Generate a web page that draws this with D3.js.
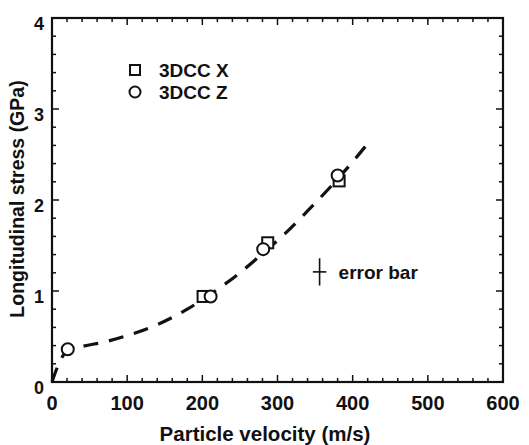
<!DOCTYPE html>
<html><head><meta charset="utf-8">
<script src="https://cdn.jsdelivr.net/npm/d3@7"></script>
<style>body{margin:0;background:#fff}svg text{font-family:"Liberation Sans",Arial,sans-serif;font-weight:bold;fill:#111}</style>
</head><body><svg id="c" width="529" height="445"></svg>
<script>
const xTicks=[0,100,200,300,400,500,600];
const yTicks=[0,1,2,3,4];
const seriesX=[[201,0.94],[287,1.53],[382,2.21]];
const seriesZ=[[21,0.36],[211,0.94],[281,1.46],[380,2.27]];
const curve=[[0,0],[8,0.18],[20,0.34],[40,0.39],[70,0.44],[100,0.51],[140,0.63],[180,0.80],[210,0.96],[250,1.2],[280,1.41],[310,1.63],[340,1.88],[370,2.14],[400,2.42],[422,2.64]];
const errBar={v:356,s:1.21,dv:9,ds:0.15,label:"error bar"};
const legend=[{name:"3DCC X",shape:"square"},{name:"3DCC Z",shape:"circle"}];

const svg=d3.select("#c");
const x=d3.scaleLinear().domain([0,600]).range([52,503]);
const y=d3.scaleLinear().domain([0,4]).range([382,18]);
const g=svg.append("g");
// frame
g.append("rect").attr("x",x(0)).attr("y",y(4)).attr("width",x(600)-x(0)).attr("height",y(0)-y(4)).attr("fill","none").attr("stroke","#111").attr("stroke-width",2.2);
// ticks
const xMinor=d3.range(0,601,20), yMinor=d3.range(0,4.01,0.2);
xMinor.forEach(v=>{const L=(v%100===0)?7:4;
 g.append("line").attr("x1",x(v)).attr("x2",x(v)).attr("y1",y(0)).attr("y2",y(0)-L).attr("stroke","#111").attr("stroke-width",1.5);
 g.append("line").attr("x1",x(v)).attr("x2",x(v)).attr("y1",y(4)).attr("y2",y(4)+L).attr("stroke","#111").attr("stroke-width",1.5);});
yMinor.forEach(v=>{const L=(Math.abs(v-Math.round(v))<1e-6)?7:4;
 g.append("line").attr("x1",x(0)).attr("x2",x(0)+L).attr("y1",y(v)).attr("y2",y(v)).attr("stroke","#111").attr("stroke-width",1.5);
 g.append("line").attr("x1",x(600)).attr("x2",x(600)-L).attr("y1",y(v)).attr("y2",y(v)).attr("stroke","#111").attr("stroke-width",1.5);});
xTicks.forEach(v=>g.append("text").attr("x",x(v)).attr("y",410).attr("text-anchor","middle").attr("font-size",20).text(v));
yTicks.forEach(v=>g.append("text").attr("x",44).attr("y",y(v)+12).attr("text-anchor","end").attr("font-size",18).text(v));
g.append("text").attr("x",265).attr("y",441).attr("text-anchor","middle").attr("font-size",20.5).text("Particle velocity (m/s)");
g.append("text").attr("transform","translate(24,199) rotate(-90)").attr("text-anchor","middle").attr("font-size",19.5).text("Longitudinal stress (GPa)");
// curve
const line=d3.line().x(d=>x(d[0])).y(d=>y(d[1])).curve(d3.curveMonotoneX);
g.append("path").attr("d",line(curve)).attr("fill","none").attr("stroke","#111").attr("stroke-width",3.2).attr("stroke-dasharray","15,11");
// markers
seriesX.forEach(d=>g.append("rect").attr("x",x(d[0])-5.5).attr("y",y(d[1])-5.5).attr("width",11).attr("height",11).attr("fill","#fff").attr("stroke","#111").attr("stroke-width",2));
seriesZ.forEach(d=>g.append("circle").attr("cx",x(d[0])).attr("cy",y(d[1])).attr("r",6).attr("fill","#fff").attr("stroke","#111").attr("stroke-width",2));
// error bar
g.append("line").attr("x1",x(errBar.v)).attr("x2",x(errBar.v)).attr("y1",y(errBar.s-errBar.ds)).attr("y2",y(errBar.s+errBar.ds)).attr("stroke","#111").attr("stroke-width",1.6);
g.append("line").attr("x1",x(errBar.v-errBar.dv)).attr("x2",x(errBar.v+errBar.dv)).attr("y1",y(errBar.s)).attr("y2",y(errBar.s)).attr("stroke","#111").attr("stroke-width",1.6);
g.append("text").attr("x",x(errBar.v)+19).attr("y",y(errBar.s)+7).attr("font-size",19).text(errBar.label);
// legend
legend.forEach((l,i)=>{const cy=70+i*22, cx=135;
 if(l.shape==="square") g.append("rect").attr("x",cx-5).attr("y",cy-5).attr("width",10).attr("height",10).attr("fill","#fff").attr("stroke","#111").attr("stroke-width",2);
 else g.append("circle").attr("cx",cx).attr("cy",cy).attr("r",5.5).attr("fill","#fff").attr("stroke","#111").attr("stroke-width",2);
 g.append("text").attr("x",159).attr("y",cy+7).attr("font-size",19).text(l.name);});
</script></body></html>
